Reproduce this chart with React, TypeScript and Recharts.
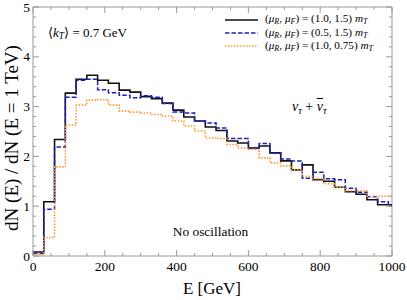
import { LineChart, Line, XAxis, YAxis, ReferenceArea } from 'recharts'

// left edge of every 30 GeV bin; the last bin is closed at 1000
const binStarts = [
  0, 30, 60, 90, 120, 150, 180, 210, 240, 270, 300, 330, 360, 390, 420, 450, 480,
  510, 540, 570, 600, 630, 660, 690, 720, 750, 780, 810, 840, 870, 900, 930, 960, 990,
]
const binEnd = 1000

// (muR, muF) = (1.0, 1.5) mT
const nominal = [
  0.08, 1.09, 2.34, 3.27, 3.55, 3.63, 3.53, 3.47, 3.33, 3.29, 3.2, 3.16, 3.07, 2.93, 2.79, 2.71, 2.59,
  2.52, 2.31, 2.27, 2.17, 2.21, 2.07, 1.91, 1.73, 1.83, 1.53, 1.5, 1.38, 1.29, 1.24, 1.13, 1.03, 1.03,
]
// (muR, muF) = (0.5, 1.5) mT
const lowMuR = [
  0.05, 0.94, 2.19, 3.19, 3.53, 3.55, 3.34, 3.28, 3.23, 3.18, 3.22, 3.19, 3.06, 2.89, 2.87, 2.71, 2.67,
  2.57, 2.36, 2.36, 2.17, 2.26, 2.07, 1.95, 1.91, 1.56, 1.68, 1.55, 1.53, 1.36, 1.28, 1.19, 1.09, 1.0,
]
// (muR, muF) = (1.0, 0.75) mT
const lowMuF = [
  0.03, 0.37, 1.79, 2.63, 3.03, 3.13, 3.14, 3.03, 2.91, 2.89, 2.87, 2.84, 2.81, 2.71, 2.61, 2.51, 2.37,
  2.36, 2.24, 2.17, 2.14, 1.97, 1.87, 1.81, 1.73, 1.6, 1.55, 1.45, 1.38, 1.31, 1.31, 1.2, 1.2, 1.2,
]

const xTicks = [
  0, 50, 100, 150, 200, 250, 300, 350, 400, 450, 500, 550, 600, 650, 700, 750, 800, 850, 900, 950, 1000,
]
const xLabels = [0, 200, 400, 600, 800, 1000]
const yTicks = [
  0, 0.2, 0.4, 0.6, 0.8, 1, 1.2, 1.4, 1.6, 1.8, 2, 2.2, 2.4, 2.6, 2.8, 3, 3.2, 3.4, 3.6, 3.8, 4,
  4.2, 4.4, 4.6, 4.8, 5,
]
const yLabels = [0, 1, 2, 3, 4, 5]

const legendScales = [
  ['1.0', '1.5'],
  ['0.5', '1.5'],
  ['1.0', '0.75'],
]

const W = 407
const H = 300
const TOP = 7
const BOTTOM = 256
const LEFT = 33
const RIGHT = 392
const AXIS = '#9a9a9a'
const FONT = '"Liberation Serif", "DejaVu Serif", serif'

const series = [
  { key: 'nominal', color: '#111111', dash: undefined, width: 1.6 },
  { key: 'lowMuR', color: '#2020b4', dash: '4.5 2', width: 1.5 },
  { key: 'lowMuF', color: '#ff9a2e', dash: '1.5 1.5', width: 1.6 },
]

const rows = binStarts.map((e, i) => ({
  E: e,
  nominal: nominal[i],
  lowMuR: lowMuR[i],
  lowMuF: lowMuF[i],
}))
rows.push({
  E: binEnd,
  nominal: nominal[nominal.length - 1],
  lowMuR: lowMuR[lowMuR.length - 1],
  lowMuF: lowMuF[lowMuF.length - 1],
})

const XTick = ({ x, payload }: any) => {
  const v = payload.value
  const major = xLabels.includes(v)
  const len = major ? 6 : 3
  return (
    <g>
      <line x1={x} x2={x} y1={BOTTOM} y2={BOTTOM - len} stroke={AXIS} />
      <line x1={x} x2={x} y1={TOP} y2={TOP + len} stroke={AXIS} />
      {major && (
        <text x={x} y={BOTTOM + 15} textAnchor="middle" fontSize={13.5} fontFamily={FONT} fill="#000">
          {v}
        </text>
      )}
    </g>
  )
}

const YTick = ({ y, payload }: any) => {
  const v = payload.value
  const major = yLabels.some((l) => Math.abs(l - v) < 1e-6)
  const len = major ? 6 : 3
  return (
    <g>
      <line x1={LEFT} x2={LEFT + len} y1={y} y2={y} stroke={AXIS} />
      <line x1={RIGHT} x2={RIGHT - len} y1={y} y2={y} stroke={AXIS} />
      {major && (
        <text x={LEFT - 3} y={y + 4.5} textAnchor="end" fontSize={13.5} fontFamily={FONT} fill="#000">
          {Math.round(v)}
        </text>
      )}
    </g>
  )
}

const abs = (left: number, top: number, extra: any = {}) => ({
  position: 'absolute' as const,
  left,
  top,
  whiteSpace: 'nowrap' as const,
  fontFamily: FONT,
  color: '#000',
  lineHeight: 1,
  ...extra,
})

const sub = { fontSize: '0.72em', verticalAlign: '-0.25em' }

export default function App() {
  return (
    <div style={{ position: 'absolute', left: 0, top: 0, width: W, height: H, background: '#fff' }}>
      <LineChart width={W} height={H} data={rows} margin={{ top: TOP, right: W - RIGHT, left: 0, bottom: 0 }}>
        <XAxis
          dataKey="E"
          type="number"
          domain={[0, 1000]}
          ticks={xTicks}
          interval={0}
          height={H - BOTTOM}
          tick={<XTick />}
          tickLine={false}
          tickSize={0}
          axisLine={false}
        />
        <YAxis
          type="number"
          domain={[0, 5]}
          ticks={yTicks}
          interval={0}
          width={LEFT}
          tick={<YTick />}
          tickLine={false}
          tickSize={0}
          axisLine={false}
        />
        <ReferenceArea x1={0} x2={1000} y1={0} y2={5} fill="none" stroke={AXIS} strokeWidth={1} />
        {series.map((s) => (
          <Line
            key={s.key}
            type="stepAfter"
            dataKey={s.key}
            stroke={s.color}
            strokeWidth={s.width}
            strokeDasharray={s.dash}
            dot={false}
            isAnimationActive={false}
          />
        ))}
      </LineChart>

      {/* legend */}
      {series.map((s, i) => (
        <div key={s.key} style={abs(225, 14 + i * 13.2, { height: 12, display: 'flex', alignItems: 'center', fontSize: 11.2 })}>
          <svg width={33} height={6} style={{ marginRight: 7 }}>
            <line x1={0} x2={33} y1={3} y2={3} stroke={s.color} strokeWidth={s.width} strokeDasharray={s.dash} />
          </svg>
          <span>
            (<i>μ</i>
            <i style={sub}>R</i>, <i>μ</i>
            <i style={sub}>F</i>) = ({legendScales[i][0]}, {legendScales[i][1]}) <i>m</i>
            <i style={sub}>T</i>
          </span>
        </div>
      ))}

      <div style={abs(48, 26, { fontSize: 13 })}>
        ⟨<i>k</i>
        <i style={sub}>T</i>⟩ = 0.7 GeV
      </div>

      <div style={abs(292, 100, { fontSize: 14 })}>
        <i>ν</i>
        <i style={sub}>τ</i> + <i style={{ textDecoration: 'overline' }}>ν</i>
        <i style={sub}>τ</i>
      </div>

      <div style={abs(210.5, 232, { fontSize: 13.4, transform: 'translate(-50%, -50%)' })}>No oscillation</div>

      <div style={abs(212, 288, { fontSize: 17, transform: 'translate(-50%, -50%)' })}>E [GeV]</div>

      <div style={abs(11, 138, { fontSize: 19, transform: 'translate(-50%, -50%) rotate(-90deg)' })}>
        dN (E) / dN (E = 1 TeV)
      </div>
    </div>
  )
}
